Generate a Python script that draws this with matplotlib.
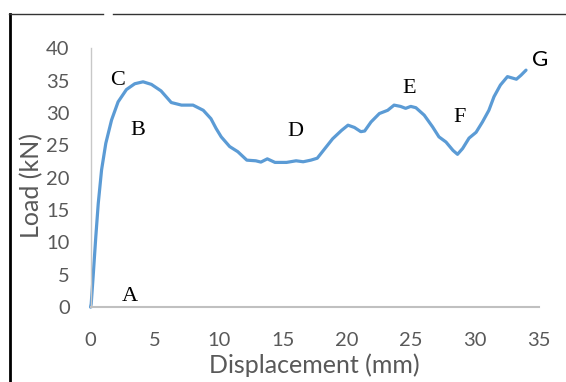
import matplotlib.pyplot as plt
from matplotlib.lines import Line2D

# displacement (mm) and load (kN)
disp = [0.0, 0.05, 0.2, 0.41, 0.6, 0.86, 1.19, 1.64, 2.15, 2.8, 3.45, 4.1, 4.75, 5.5,
        6.3, 7.1, 7.5, 8.0, 8.8, 9.4, 9.8, 10.2, 10.86, 11.5, 12.2, 12.9, 13.3, 13.8,
        14.4, 15.3, 16.05, 16.6, 17.2, 17.7, 18.3, 18.9, 19.6, 20.1, 20.6, 21.1, 21.4,
        21.9, 22.55, 23.2, 23.7, 24.2, 24.6, 25.0, 25.4, 26.05, 26.7, 27.2, 27.75, 28.3,
        28.65, 29.05, 29.55, 30.1, 30.6, 31.1, 31.5, 32.0, 32.55, 32.9, 33.25, 33.6, 34.0]
load = [0.0, 0.5, 4.7, 10.9, 16.0, 21.2, 25.3, 28.9, 31.7, 33.6, 34.5, 34.8, 34.4, 33.4,
        31.6, 31.2, 31.2, 31.2, 30.4, 29.1, 27.6, 26.3, 24.8, 24.0, 22.7, 22.6, 22.4, 22.9,
        22.35, 22.35, 22.6, 22.45, 22.7, 23.0, 24.5, 26.0, 27.3, 28.1, 27.75, 27.1, 27.2,
        28.6, 29.9, 30.4, 31.2, 31.0, 30.7, 31.0, 30.8, 29.65, 27.85, 26.3, 25.5, 24.2,
        23.6, 24.5, 26.1, 27.0, 28.6, 30.4, 32.5, 34.3, 35.6, 35.4, 35.2, 35.8, 36.6]

point_names = ["A", "B", "C", "D", "E", "F"]
point_x = [3.1, 3.7, 2.1, 16.0, 24.9, 28.8]
point_y = [1.7, 27.3, 35.0, 27.2, 33.8, 29.3]

xticks = [0, 5, 10, 15, 20, 25, 30, 35]
yticks = [0, 5, 10, 15, 20, 25, 30, 35, 40]

sans = ["Lato", "DejaVu Sans"]
grey = "#595959"

fig = plt.figure(figsize=(5.66, 3.82), dpi=100)
ax = fig.add_axes([0.160, 0.196, 0.792, 0.678])

ax.plot(disp, load, color="#5B9BD5", lw=2.3, solid_capstyle="round",
        solid_joinstyle="round")

for name, px, py in zip(point_names, point_x, point_y):
    ax.text(px, py, name, family="Liberation Serif", fontsize=16,
            ha="center", va="center", color="black")
ax.text(35.1, 38.1, "G", family=sans, fontsize=16, ha="center", va="center")

ax.set_xlim(0, 35)
ax.set_ylim(0, 40)
ax.set_xticks(xticks)
ax.set_yticks(yticks)
ax.tick_params(length=0, labelsize=14.5, labelcolor=grey)
ax.tick_params(axis="y", pad=15)
ax.tick_params(axis="x", pad=18)
for lab in ax.get_xticklabels() + ax.get_yticklabels():
    lab.set_family(sans)

for s in ["top", "right"]:
    ax.spines[s].set_visible(False)
ax.spines["left"].set_color("#C8C8C8")
ax.spines["bottom"].set_color("#C0C0C0")
ax.spines["left"].set_linewidth(1.0)
ax.spines["bottom"].set_linewidth(1.5)
for ln in ax.lines:
    ln.set_clip_on(False)

ax.set_xlabel("Displacement (mm)", family=sans, fontsize=18, color=grey)
ax.set_ylabel("Load (kN)", family=sans, fontsize=18, color=grey)
ax.xaxis.set_label_coords(0.5, -0.18)
ax.yaxis.set_label_coords(-0.105, 0.47)

# outer frame of the original figure
W, H = 566, 382
fig.add_artist(Line2D([10 / W, 10 / W], [0, 1 - 14 / H], color="black", lw=2))
fig.add_artist(Line2D([9 / W, 103 / W], [1 - 14 / H] * 2, color="#333333", lw=1))
fig.add_artist(Line2D([113 / W, 1], [1 - 14 / H] * 2, color="#333333", lw=1))

fig.savefig("out.png", dpi=100)
